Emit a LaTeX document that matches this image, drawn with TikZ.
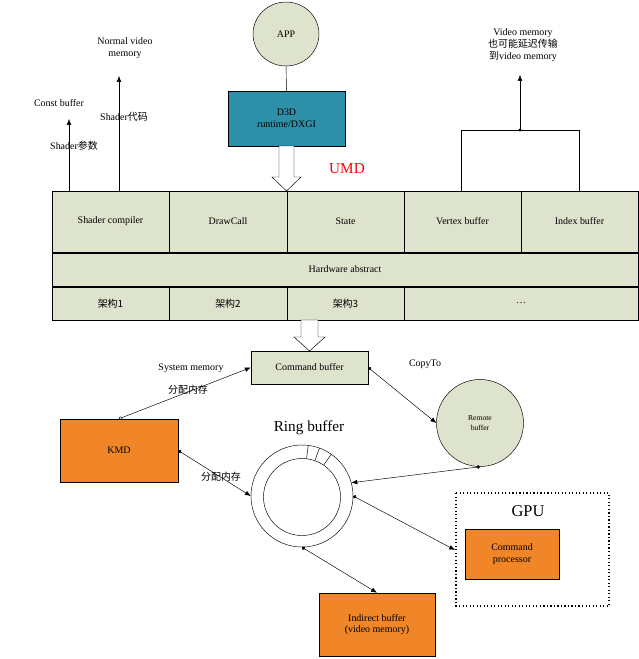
\documentclass[tikz,border=0pt]{standalone}
\usepackage{fontspec}
\setmainfont{Liberation Serif}
\newfontfamily\cjk{Noto Sans CJK SC}
\usetikzlibrary{calc,shapes.geometric,arrows.meta}
\definecolor{pale}{HTML}{DDE3CC}
\definecolor{d3dblue}{HTML}{2E8FA8}
\definecolor{kmdorange}{HTML}{F08628}
\tikzset{
  cell/.style={draw, fill=pale, inner sep=0pt},
  obox/.style={draw, fill=kmdorange, inner sep=0pt, align=center},
  lbl/.style={font=\fontsize{8.5}{10}\selectfont, align=center, inner sep=1pt},
  arr/.style={-{Latex[length=5pt,width=4pt]}},
  dotarr/.style={{Circle[length=3pt]}-{Latex[length=5pt,width=4pt]}},
  hollow/.style={draw, fill=white}
}
\begin{document}
\begin{tikzpicture}[x=0.03cm, y=-0.03cm, font=\fontsize{8.5}{10}\selectfont]
			\useasboundingbox (0,0) rectangle (639,659);
			% top
			\node[ellipse, draw, fill=pale, minimum width=66*0.03cm, minimum height=64*0.03cm] (app) at (286,34) {APP};
			\node[draw, fill=d3dblue, minimum width=117*0.03cm, minimum height=55*0.03cm, align=center] (d3d) at (286.5,118.5) {D3D\\runtime/DXGI};
			\draw (app) -- (d3d);
			\draw[hollow] (279,146) -- (279,177) -- (272,177) -- (286.5,191) -- (301,177) -- (294,177) -- (294,146) -- cycle;
			\node[text=red, font=\fontsize{13}{14}\selectfont] (umd) at (347,169) {UMD};
			% UMD block
			\node[cell, minimum width=117*0.03cm, minimum height=61*0.03cm] (sc) at (110.5,221.5) {Shader compiler};
			\node[cell, minimum width=118*0.03cm, minimum height=61*0.03cm] (dc) at (228,221.5) {DrawCall};
			\node[cell, minimum width=117*0.03cm, minimum height=61*0.03cm] (st) at (345.5,221.5) {State};
			\node[cell, minimum width=117*0.03cm, minimum height=61*0.03cm] (vb) at (462.5,221.5) {Vertex buffer};
			\node[cell, minimum width=117*0.03cm, minimum height=61*0.03cm] (ib) at (579.5,221.5) {Index buffer};
			\node[cell, minimum width=586*0.03cm, minimum height=33*0.03cm] (hw) at (345,269.5) {Hardware abstract};
			\node[cell, minimum width=117*0.03cm, minimum height=33*0.03cm] (a1) at (110.5,303.5) {\cjk 架构1};
			\node[cell, minimum width=118*0.03cm, minimum height=33*0.03cm] (a2) at (228,303.5) {\cjk 架构2};
			\node[cell, minimum width=117*0.03cm, minimum height=33*0.03cm] (a3) at (345.5,303.5) {\cjk 架构3};
			\node[cell, minimum width=234*0.03cm, minimum height=33*0.03cm] (a4) at (521,303.5) {\dots};
			% outputs of the block
			\coordinate (cbtop) at (69,119);
			\coordinate (nvtop) at (119,76);
			\draw[arr] (69,191) -- (cbtop);
			\draw[arr] (119,191) -- (nvtop);
			\node[lbl] (nvm) at (125,48) {Normal video\\memory};
			\node[lbl] (cbuf) at (59,103) {Const buffer};
			\node[lbl] (scode) at (124,117) {Shader{\cjk 代码}};
			\node[lbl] (sparam) at (74,146) {Shader{\cjk 参数}};
			\coordinate (join) at (520,130);
			\coordinate (vmtop) at (520,75);
			\draw (461,191) -- (461,130) -- (579,130) -- (579,191);
			\draw[arr] (join) -- (vmtop);
			\fill (join) circle (1.6);
			\node[lbl] (vm) at (523,45) {Video memory\\{\cjk 也可能延迟传输}\\{\cjk 到}video memory};
			% KMD part
			\draw[hollow] (301,320) -- (301,337) -- (294,337) -- (309.5,351) -- (325,337) -- (318,337) -- (318,320) -- cycle;
			\node[cell, minimum width=117*0.03cm, minimum height=33*0.03cm] (cmd) at (309.5,367.5) {Command buffer};
			\node[obox, minimum width=118*0.03cm, minimum height=63*0.03cm] (kmd) at (119,450.5) {KMD};
			\node[circle, draw, fill=pale, minimum size=87*0.03cm, align=center, font=\fontsize{6.5}{8}\selectfont] (remote) at (480,423) {Remote\\buffer};
			\node[circle, draw, minimum size=102*0.03cm] (ring) at (302,496) {};
			\node[circle, draw, minimum size=77*0.03cm] (ringin) at (302,497) {};
			\foreach \a in {97,110,125}
				\draw ($(ring.center)+(\a:-38)$) -- ($(ring.center)+(\a:-51)$);
			\node[font=\fontsize{13}{14}\selectfont] (rbl) at (309,428) {Ring buffer};
			\draw[dotted, line width=1pt] (456,493) rectangle (609,606);
			\node[font=\fontsize{14}{15}\selectfont] (gpu) at (528,511) {GPU};
			\node[obox, minimum width=94*0.03cm, minimum height=50*0.03cm] (cp) at (512,554) {Command\\processor};
			\node[obox, minimum width=116*0.03cm, minimum height=63*0.03cm] (ind) at (377,624.5) {Indirect buffer\\(video memory)};
			% connectors
			\draw[{Circle[open,length=3pt]}-{Latex[length=5pt,width=4pt]}] (kmd.north) -- (cmd.west);
			\node[lbl] (sysm) at (191,368) {System memory};
			\node[lbl] (fp1) at (188,390) {\cjk 分配内存};
			\draw[dotarr] (cmd.east) -- (remote.west);
			\node[lbl] (copy) at (425,364) {CopyTo};
			\draw[dotarr] (kmd.east) -- (ring.west);
			\node[lbl] (fp2) at (221,477) {\cjk 分配内存};
			\draw[dotarr] (remote.south) -- (ring.15);
			\draw[dotarr] (ring.0) -- (455,550);
			\draw[dotarr] (ring.south) -- (ind.north);
		\end{tikzpicture}
\end{document}
